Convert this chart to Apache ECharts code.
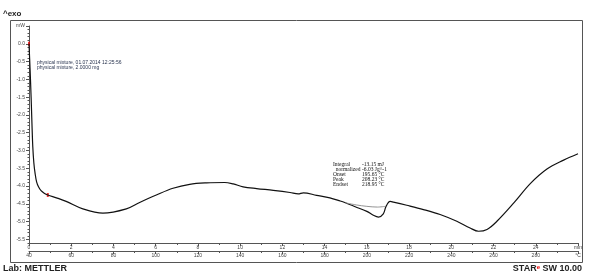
<!DOCTYPE html>
<html><head><meta charset="utf-8">
<script src="https://cdn.jsdelivr.net/npm/echarts@6/dist/echarts.min.js"></script>
<style>html,body{margin:0;padding:0;background:#fff}#c{width:595px;height:276px}</style>
</head><body><div id="c"></div>
<script>
// ---- data ----
const temperatureC = [40, 40.5, 41.0, 41.4, 41.8, 42.3, 42.9, 43.6, 44.5, 45.7, 47.2, 48.9, 53, 57.6, 65.5, 75, 86.1, 92.4, 100.3, 108.2, 116.1, 124.1, 132.7, 136.7, 141.4, 147.8, 155.7, 163.6, 167.5, 169.9, 176.2, 182.5, 187.4, 189.8, 194.5, 200, 203.1, 205.5, 207.8, 209.1, 211, 212.6, 218.9, 226.8, 234.7, 242.6, 248.9, 252.9, 256.9, 261.6, 269.5, 277.4, 285.3, 293.2, 300];
const heatFlowMW = [0.0, -0.7, -1.5, -2.25, -2.9, -3.35, -3.65, -3.88, -4.02, -4.13, -4.2, -4.25, -4.33, -4.43, -4.64, -4.76, -4.64, -4.46, -4.25, -4.06, -3.95, -3.91, -3.90, -3.94, -4.02, -4.07, -4.12, -4.18, -4.22, -4.19, -4.26, -4.33, -4.42, -4.47, -4.58, -4.71, -4.82, -4.87, -4.78, -4.57, -4.43, -4.45, -4.54, -4.66, -4.80, -4.99, -5.18, -5.27, -5.22, -4.99, -4.48, -3.93, -3.52, -3.27, -3.09];
const baselineC = [189.8, 195, 200, 205, 208.8];
const baselineMW = [-4.47, -4.53, -4.57, -4.59, -4.57];
const markerC = [40, 48.9];
const markerMW = [0.0, -4.25];
const yTickValues = [0.5, 0, -0.5, -1, -1.5, -2, -2.5, -3, -3.5, -4, -4.5, -5, -5.5];
const yTickLabels = ['mW', '0.0', '-0.5', '-1.0', '-1.5', '-2.0', '-2.5', '-3.0', '-3.5', '-4.0', '-4.5', '-5.0', '-5.5'];
const timeTickLabels = ['0','2','4','6','8','10','12','14','16','18','20','22','24','min'];
const tempTickLabels = ['40','60','80','100','120','140','160','180','200','220','240','260','280','°C'];
const sampleLines = ['physical mixture, 01.07.2014 12:25:56', 'physical mixture, 2.0000 mg'];
const resultNames = ['Integral', '  normalized', 'Onset', 'Peak', 'Endset'];
const resultValues = ['-13.15 mJ', '-6.03 Jg^-1', '195.65 °C', '208.23 °C', '218.95 °C'];

// ---- chart ----
const chart = echarts.init(document.getElementById('c'), null, {renderer: 'canvas'});
const axisColor = '#555';
const labelStyle = {color: '#444', fontSize: 5, fontFamily: 'Liberation Sans'};
const minorY = [];
for (let i = -56; i <= 5; i++) minorY.push(i / 10);

const graphics = [
  {type: 'rect', shape: {x: 10.5, y: 20.5, width: 572, height: 242}, style: {fill: 'none', stroke: '#555', lineWidth: 1}, silent: true},
  {type: 'text', x: 3, y: 10, style: {text: '^exo', fontSize: 8, fontWeight: 'bold', fill: '#222', fontFamily: 'Liberation Sans'}},
  {type: 'text', x: 3, y: 264, style: {text: 'Lab: METTLER', fontSize: 9, fontWeight: 'bold', fill: '#222', fontFamily: 'Liberation Sans'}},
  {type: 'text', right: 13, y: 264, style: {
    text: '{a|STAR}{e|e}{a| SW 10.00}', fontFamily: 'Liberation Sans',
    rich: {a: {fontSize: 9, fontWeight: 'bold', fill: '#222', color: '#222'}, e: {fontSize: 6, fontWeight: 'bold', color: '#e00', fill: '#e00', verticalAlign: 'top'}}
  }}
];
sampleLines.forEach((t, i) => graphics.push({type: 'text', x: 37, y: 60 + i * 4.8, style: {text: t, fontSize: 5, fill: '#2a3550', fontFamily: 'Liberation Sans'}}));
resultNames.forEach((t, i) => {
  graphics.push({type: 'text', x: 333, y: 162 + i * 5, style: {text: t, fontSize: 5.5, fill: '#111', fontFamily: 'Liberation Serif'}});
  graphics.push({type: 'text', x: 362, y: 162 + i * 5, style: {text: resultValues[i], fontSize: 5.5, fill: '#111', fontFamily: 'Liberation Serif'}});
});

chart.setOption({
  animation: false,
  grid: {left: 29, right: 17, top: 26, bottom: 33, containLabel: false},
  xAxis: [
    {type: 'value', position: 'bottom', min: 0, max: 26, interval: 2,
     axisLine: {onZero: false, lineStyle: {color: axisColor, width: 1}},
     axisTick: {length: 3, lineStyle: {color: axisColor}},
     minorTick: {show: true, splitNumber: 2, length: 2, lineStyle: {color: axisColor}},
     splitLine: {show: false},
     axisLabel: Object.assign({margin: 2, formatter: v => timeTickLabels[Math.round(v / 2)]}, labelStyle)},
    {type: 'value', position: 'bottom', offset: 8, min: 40, max: 300, interval: 20,
     axisLine: {onZero: false, lineStyle: {color: axisColor, width: 1}},
     axisTick: {length: 3, lineStyle: {color: axisColor}},
     minorTick: {show: true, splitNumber: 2, length: 2, lineStyle: {color: axisColor}},
     splitLine: {show: false},
     axisLabel: Object.assign({margin: 2, formatter: v => tempTickLabels[Math.round((v - 40) / 20)]}, labelStyle)}
  ],
  yAxis: [
    {type: 'value', position: 'left', min: -5.6, max: 0.5,
     axisLine: {show: true, onZero: false, lineStyle: {color: axisColor, width: 1}},
     axisTick: {show: true, length: 3, customValues: yTickValues, lineStyle: {color: axisColor}},
     splitLine: {show: false},
     axisLabel: Object.assign({margin: 4, customValues: yTickValues, formatter: v => {
       const i = yTickValues.findIndex(t => Math.abs(t - v) < 1e-6); return i >= 0 ? yTickLabels[i] : '';
     }}, labelStyle)},
    {type: 'value', position: 'left', min: -5.6, max: 0.5,
     axisLine: {show: false, onZero: false},
     axisTick: {show: true, length: 1.5, customValues: minorY, lineStyle: {color: axisColor}},
     splitLine: {show: false},
     axisLabel: {show: false}}
  ],
  graphic: graphics,
  series: [
    {type: 'line', xAxisIndex: 1, yAxisIndex: 0, data: temperatureC.map((t, i) => [t, heatFlowMW[i]]),
     smooth: 0.35, showSymbol: false, lineStyle: {color: '#111', width: 1.2}},
    {type: 'line', xAxisIndex: 1, yAxisIndex: 0, data: baselineC.map((t, i) => [t, baselineMW[i]]),
     smooth: 0.3, showSymbol: false, lineStyle: {color: '#888', width: 0.9}},
    {type: 'scatter', xAxisIndex: 1, yAxisIndex: 0, data: markerC.map((t, i) => [t, markerMW[i]]),
     symbol: 'rect', symbolSize: [2, 4], itemStyle: {color: '#e00'}}
  ]
});
</script></body></html>
